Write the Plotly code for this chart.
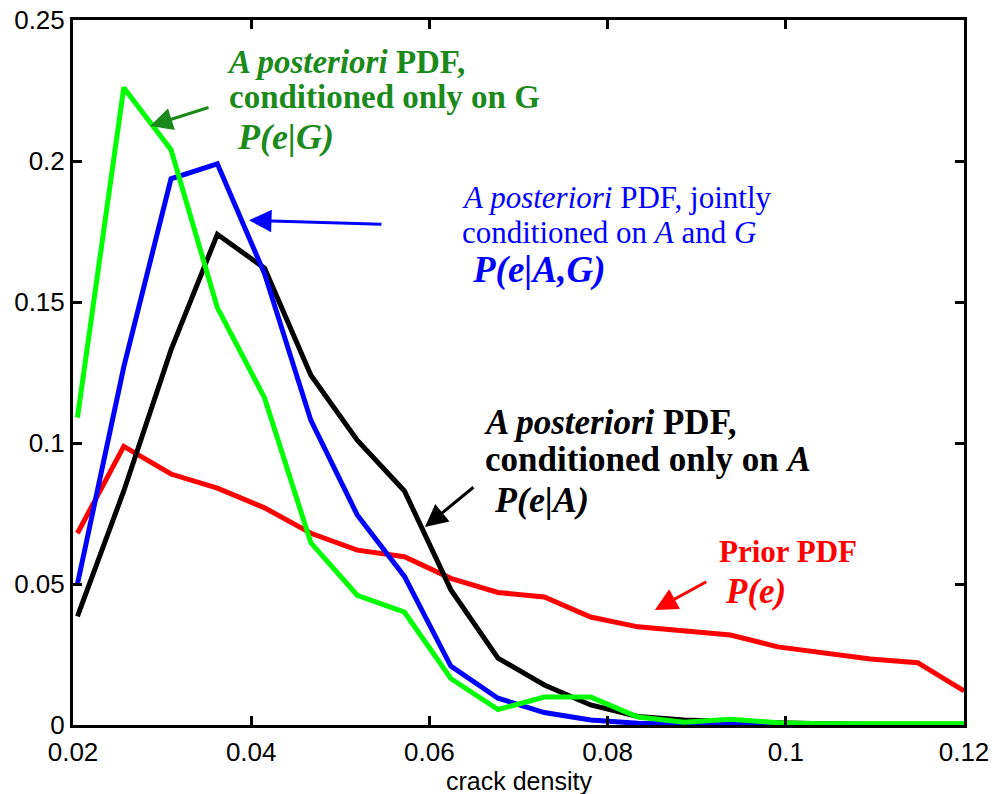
import plotly.graph_objects as go

# ---- data ----
crack_density = [0.0205, 0.0257, 0.0310, 0.0362, 0.0415, 0.0467, 0.0519, 0.0572, 0.0624, 0.0677,
                 0.0729, 0.0781, 0.0834, 0.0886, 0.0938, 0.0991, 0.1043, 0.1095, 0.1148, 0.1200]
prior_pdf = [0.068, 0.0988, 0.089, 0.084, 0.077, 0.068, 0.062, 0.0597, 0.052, 0.047,
             0.0454, 0.0383, 0.0348, 0.0333, 0.0319, 0.0277, 0.0255, 0.0234, 0.0221, 0.0121]
post_A = [0.0385, 0.083, 0.133, 0.174, 0.162, 0.124, 0.101, 0.083, 0.048, 0.0237,
          0.0142, 0.0071, 0.003, 0.0018, 0.0012, 0.0006, 0.0004, 0.0003, 0.0003, 0.0003]
post_AG = [0.050, 0.127, 0.1937, 0.199, 0.160, 0.108, 0.0745, 0.0527, 0.0209, 0.0095,
           0.0044, 0.0018, 0.0006, 0.0003, 0.0002, 0.0002, 0.0001, 0.0001, 0.0001, 0.0001]
post_G = [0.109, 0.226, 0.204, 0.148, 0.116, 0.0646, 0.046, 0.040, 0.0165, 0.0055,
          0.0099, 0.0099, 0.0028, 0.001, 0.002, 0.0008, 0.0004, 0.0004, 0.0004, 0.0004]

x_ticks = [0.02, 0.04, 0.06, 0.08, 0.1, 0.12]
x_ticklabels = ["0.02", "0.04", "0.06", "0.08", "0.1", "0.12"]
y_ticks = [0, 0.05, 0.1, 0.15, 0.2, 0.25]
y_ticklabels = ["0", "0.05", "0.1", "0.15", "0.2", "0.25"]
x_title = "crack density"

RED = "#ff0000"
BLACK = "#000000"
BLUE = "#0000ff"
LIME = "#00ff00"
DKGREEN = "#1b8a1b"
SERIF = "Liberation Serif, Times New Roman, serif"
SANS = "Liberation Sans, Arial, sans-serif"

fig = go.Figure()
for ys, col in [(prior_pdf, RED), (post_A, BLACK), (post_AG, BLUE), (post_G, LIME)]:
    fig.add_trace(go.Scatter(x=crack_density, y=ys, mode="lines",
                             line=dict(color=col, width=5), showlegend=False))

# ---- text labels ----
labels = [
    # (x, y, html text, size, color)
    (0.03706, 0.2351, "<b><i>A posteriori</i> PDF,</b>", 33, DKGREEN),
    (0.03728, 0.2227, "<b>conditioned only on G</b>", 33, DKGREEN),
    (0.03818, 0.2085, "<b><i>P(e|G)</i></b>", 36, DKGREEN),
    (0.06343, 0.1872, "<i>A posteriori</i> PDF, jointly", 31, BLUE),
    (0.06343, 0.1748, "conditioned on <i>A</i> and <i>G</i>", 31, BLUE),
    (0.06456, 0.1613, "<b><i>P(e|A,G)</i></b>", 37, BLUE),
    (0.0659, 0.1074, "<b><i>A posteriori</i> PDF,</b>", 35, BLACK),
    (0.0660, 0.0940, "<b>conditioned only on <i>A</i></b>", 35, BLACK),
    (0.0670, 0.0798, "<b><i>P(e|A)</i></b>", 36, BLACK),
    (0.0923, 0.0617, "<b>Prior PDF</b>", 31, RED),
    (0.0930, 0.0472, "<b><i>P(e)</i></b>", 35, RED),
]
for lx, ly, txt, sz, col in labels:
    fig.add_annotation(x=lx, y=ly, xref="x", yref="y", text=txt, showarrow=False,
                       xanchor="left", yanchor="middle",
                       font=dict(family=SERIF, size=sz, color=col))

# ---- arrows (tip in data coords, tail offset in pixels) ----
arrows = [
    (0.02864, 0.2124, 60, -19, DKGREEN),
    (0.03975, 0.1790, 134, 4, BLUE),
    (0.0595, 0.0702, 50, -41, BLACK),
    (0.0853, 0.0408, 53, -29, RED),
]
for tx, ty, axp, ayp, col in arrows:
    fig.add_annotation(x=tx, y=ty, xref="x", yref="y", text="", showarrow=True,
                       ax=axp, ay=ayp, axref="pixel", ayref="pixel",
                       arrowhead=2, arrowsize=1.5, arrowwidth=3, arrowcolor=col, standoff=0)

# x-axis title placed as an annotation below the tick labels
fig.add_annotation(x=0.5, y=-0.080, xref="paper", yref="paper", text=x_title, showarrow=False,
                   xanchor="center", yanchor="middle",
                   font=dict(family=SANS, size=25, color="black"))

axis_common = dict(showgrid=False, zeroline=False, showline=True, linecolor="black", linewidth=3,
                   mirror="ticks", ticks="inside", ticklen=9, tickwidth=3, tickcolor="black",
                   automargin=False,
                   tickfont=dict(family=SANS, size=26, color="black"))

fig.update_xaxes(range=[0.02, 0.12], tickvals=x_ticks, ticktext=x_ticklabels,
                 ticklabelstandoff=2, **axis_common)
fig.update_yaxes(range=[0, 0.25], tickvals=y_ticks, ticktext=y_ticklabels, **axis_common)

fig.update_layout(width=997, height=794, margin=dict(l=73, r=33, t=20, b=69),
                  plot_bgcolor="white", paper_bgcolor="white")

fig.write_html("out.html", config={"displayModeBar": False},
               post_script="document.body.style.margin='0';document.body.style.overflow='hidden';")
